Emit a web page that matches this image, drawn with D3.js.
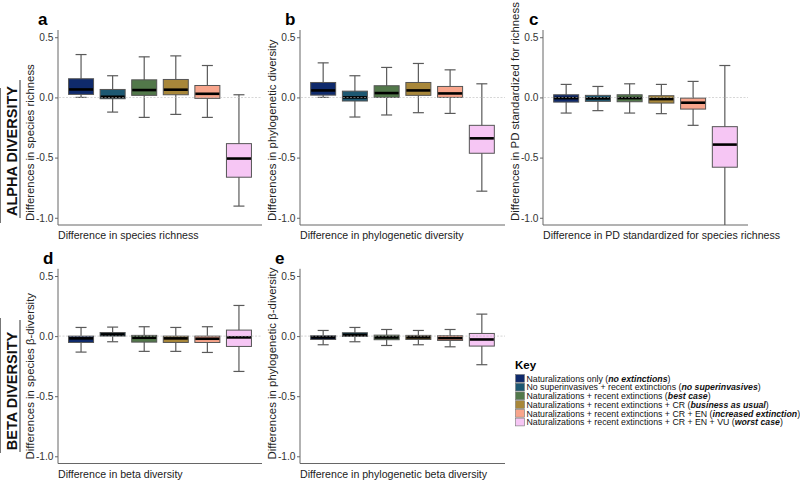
<!DOCTYPE html>
<html>
<head>
<meta charset="utf-8">
<script src="https://cdn.jsdelivr.net/npm/d3@7"></script>
<style>
  body { margin: 0; background: #fff; }
  svg { font-family: "Liberation Sans", Arial, sans-serif; }
</style>
</head>
<body>
<div id="chart"></div>
<script>
// scenarios, in plotting order
var scenarios = ["nat", "nosuper", "best", "bau", "incr", "worst"];
var scenarioColors = ["#0f2a6c", "#1d5872", "#52784a", "#a8873a", "#f8a58c", "#f6c6f4"];

var legendText = [
    "Naturalizations only (",
    "No superinvasives + recent extinctions (",
    "Naturalizations + recent extinctions (",
    "Naturalizations + recent extinctions + CR (",
    "Naturalizations + recent extinctions + CR + EN (",
    "Naturalizations + recent extinctions + CR + EN + VU ("
];
var legendEmph = ["no extinctions", "no superinvasives", "best case", "business as usual", "increased extinction", "worst case"];

var yTicks = [0.5, 0.0, -0.5, -1.0];

// [lower whisker, Q1, median, Q3, upper whisker]
var richnessStats = [
    [0.0, 0.025, 0.066, 0.155, 0.356],
    [-0.122, -0.011, 0.005, 0.066, 0.18],
    [-0.166, 0.017, 0.061, 0.146, 0.337],
    [-0.141, 0.022, 0.064, 0.149, 0.345],
    [-0.166, -0.008, 0.03, 0.099, 0.265],
    [-0.903, -0.663, -0.508, -0.384, 0.022]
];
var pdStats = [
    [0.0, 0.019, 0.058, 0.124, 0.287],
    [-0.163, -0.03, 0.0, 0.052, 0.18],
    [-0.146, 0.0, 0.036, 0.097, 0.249],
    [-0.127, 0.017, 0.058, 0.124, 0.282],
    [-0.133, 0.0, 0.033, 0.091, 0.229],
    [-0.779, -0.464, -0.34, -0.232, 0.113]
];
var sesPdStats = [
    [-0.13, -0.039, -0.006, 0.022, 0.108],
    [-0.11, -0.033, -0.008, 0.017, 0.091],
    [-0.13, -0.036, -0.006, 0.022, 0.113],
    [-0.135, -0.047, -0.014, 0.014, 0.108],
    [-0.232, -0.097, -0.044, -0.006, 0.133],
    [-1.2, -0.58, -0.392, -0.243, 0.265]
];
var betaStats = [
    [-0.133, -0.053, -0.019, 0.0, 0.072],
    [-0.047, 0.0, 0.014, 0.03, 0.075],
    [-0.127, -0.05, -0.014, 0.006, 0.078],
    [-0.127, -0.053, -0.019, 0.0, 0.072],
    [-0.136, -0.053, -0.022, 0.0, 0.078],
    [-0.294, -0.086, -0.011, 0.05, 0.255]
];
var phyloBetaStats = [
    [-0.072, -0.028, -0.011, 0.003, 0.047],
    [-0.047, -0.003, 0.011, 0.028, 0.072],
    [-0.078, -0.03, -0.011, 0.008, 0.055],
    [-0.072, -0.028, -0.011, 0.006, 0.047],
    [-0.089, -0.036, -0.017, 0.003, 0.055],
    [-0.238, -0.083, -0.028, 0.022, 0.183]
];

var width = 800, height = 480;

var svg = d3.select("#chart").append("svg")
    .attr("width", width)
    .attr("height", height);

var panels = [
    {id: "a", stats: richnessStats, x0: 58, x1: 262, y0: 30, y1: 225,
     ytitle: "Differences in species richness", xtitle: "Difference in species richness", lx: -20},
    {id: "b", stats: pdStats, x0: 300, x1: 505, y0: 30, y1: 225,
     ytitle: "Differences in phylogenetic diversity", xtitle: "Difference in phylogenetic diversity", lx: -15},
    {id: "c", stats: sesPdStats, x0: 543, x1: 748, y0: 30, y1: 225,
     ytitle: "Differences in PD standardized for richness", xtitle: "Difference in PD standardized for species richness", lx: -14},
    {id: "d", stats: betaStats, x0: 58, x1: 262, y0: 268.8, y1: 463.5,
     ytitle: "Differences in species \u03b2-diversity", xtitle: "Difference in beta diversity", lx: -15},
    {id: "e", stats: phyloBetaStats, x0: 300, x1: 505, y0: 268.8, y1: 463.5,
     ytitle: "Differences in phylogenetic \u03b2-diversity", xtitle: "Difference in phylogenetic beta diversity", lx: -25}
];

var boxW = 25, capW = 11;
var fmt = d3.format(".1f");

panels.forEach(function(p) {
    var x = d3.scalePoint()
        .domain(scenarios)
        .range([p.x0, p.x1])
        .padding(0.73);
    var y = d3.scaleLinear()
        .domain([-1.06, 0.56])
        .range([p.y1, p.y0])
        .clamp(true);

    var g = svg.append("g");

    // y axis
    var yAxis = d3.axisLeft(y)
        .tickValues(yTicks)
        .tickFormat(function(d) { return fmt(d).replace("\u2212", "-"); })
        .tickSize(3)
        .tickPadding(1.5);
    var ga = g.append("g")
        .attr("transform", "translate(" + p.x0 + ",0)")
        .call(yAxis);
    ga.select(".domain").remove();
    ga.selectAll(".tick line").attr("stroke", "#666");
    ga.selectAll(".tick text")
        .attr("fill", "#333")
        .style("font-size", "10.2px")
        .style("font-family", "Liberation Sans, Arial, sans-serif");

    g.append("line")
        .attr("x1", p.x0).attr("x2", p.x0)
        .attr("y1", p.y0).attr("y2", p.y1)
        .attr("stroke", "#666").attr("stroke-width", 1);
    g.append("line")
        .attr("x1", p.x0).attr("x2", p.x1)
        .attr("y1", p.y1).attr("y2", p.y1)
        .attr("stroke", "#666").attr("stroke-width", 1);

    // boxes
    var boxes = g.append("g")
        .selectAll("g")
        .data(p.stats)
        .enter()
        .append("g")
        .attr("transform", function(d, i) { return "translate(" + x(scenarios[i]) + ",0)"; });

    boxes.append("line")
        .attr("x1", 0).attr("x2", 0)
        .attr("y1", function(d) { return y(d[4]); })
        .attr("y2", function(d) { return y(d[0]); })
        .attr("stroke", "#5a5a5a").attr("stroke-width", 1.2);
    boxes.append("line")
        .attr("x1", -capW / 2).attr("x2", capW / 2)
        .attr("y1", function(d) { return y(d[4]); })
        .attr("y2", function(d) { return y(d[4]); })
        .attr("stroke", "#5a5a5a").attr("stroke-width", 1.2);
    boxes.filter(function(d) { return d[0] > -1.06; })
        .append("line")
        .attr("x1", -capW / 2).attr("x2", capW / 2)
        .attr("y1", function(d) { return y(d[0]); })
        .attr("y2", function(d) { return y(d[0]); })
        .attr("stroke", "#5a5a5a").attr("stroke-width", 1.2);
    boxes.append("rect")
        .attr("x", -boxW / 2)
        .attr("width", boxW)
        .attr("y", function(d) { return y(d[3]); })
        .attr("height", function(d) { return Math.max(1, y(d[1]) - y(d[3])); })
        .attr("fill", function(d, i) { return scenarioColors[i]; })
        .attr("stroke", "#555")
        .attr("stroke-width", 1);
    boxes.append("line")
        .attr("x1", -boxW / 2 + 0.5).attr("x2", boxW / 2 - 0.5)
        .attr("y1", function(d) { return y(d[2]); })
        .attr("y2", function(d) { return y(d[2]); })
        .attr("stroke", "#000").attr("stroke-width", 2.6);

    // zero reference line
    g.append("line")
        .attr("x1", p.x0 + 1).attr("x2", p.x1)
        .attr("y1", y(0)).attr("y2", y(0))
        .attr("stroke", "#bbb")
        .attr("stroke-width", 0.8)
        .attr("stroke-dasharray", "2,1.5")
        .attr("opacity", 0.8);

    // panel letter
    svg.append("text")
        .attr("x", p.x0 + p.lx)
        .attr("y", p.y0 - 5)
        .style("font-size", "17px")
        .style("font-weight", "bold")
        .text(p.id);

    // axis titles
    svg.append("text")
        .attr("transform", "translate(" + (p.x0 - 24) + "," + (p.y1 - 4) + ") rotate(-90)")
        .attr("text-anchor", "start")
        .attr("fill", "#222")
        .style("font-size", "11.4px")
        .text(p.ytitle);
    svg.append("text")
        .attr("x", p.x0)
        .attr("y", p.y1 + 14)
        .attr("fill", "#222")
        .style("font-size", "10.6px")
        .text(p.xtitle);
});

// row labels
var rowLabels = [
    {text: "ALPHA DIVERSITY", cy: 151, l0: 80, l1: 218, s0: 88, s1: 223},
    {text: "BETA DIVERSITY", cy: 391, l0: 320, l1: 452, s0: 318, s1: 453}
];
rowLabels.forEach(function(r) {
    svg.append("text")
        .attr("transform", "translate(16.5," + r.cy + ") rotate(-90)")
        .attr("text-anchor", "middle")
        .style("font-size", "14.5px")
        .style("font-weight", "bold")
        .attr("fill", "#111")
        .text(r.text);
    svg.append("line")
        .attr("x1", 20).attr("x2", 20)
        .attr("y1", r.l0).attr("y2", r.l1)
        .attr("stroke", "#333").attr("stroke-width", 1);
    svg.append("line")
        .attr("x1", 0.5).attr("x2", 0.5)
        .attr("y1", r.s0).attr("y2", r.s1)
        .attr("stroke", "#777").attr("stroke-width", 1);
});

// key
var key = svg.append("g").attr("transform", "translate(515,0)");
key.append("text")
    .attr("x", 0).attr("y", 369)
    .style("font-size", "11.5px")
    .style("font-weight", "bold")
    .text("Key");

var ky = d3.scaleBand()
    .domain(scenarios)
    .range([374, 426.4]);

var rows = key.selectAll("g.row")
    .data(scenarios)
    .enter()
    .append("g")
    .attr("class", "row")
    .attr("transform", function(d) { return "translate(0," + ky(d) + ")"; });

rows.append("rect")
    .attr("x", 0.5).attr("y", 0.5)
    .attr("width", 9).attr("height", ky.bandwidth() - 1)
    .attr("fill", function(d, i) { return scenarioColors[i]; })
    .attr("stroke", "#777").attr("stroke-width", 0.6);

var rowText = rows.append("text")
    .attr("x", 11.5)
    .attr("y", ky.bandwidth() / 2 + 3.2)
    .attr("fill", "#111")
    .style("font-size", "8.75px");
rowText.append("tspan").text(function(d, i) { return legendText[i]; });
rowText.append("tspan")
    .style("font-weight", "bold")
    .style("font-style", "italic")
    .text(function(d, i) { return legendEmph[i]; });
rowText.append("tspan").text(")");
</script>
</body>
</html>
